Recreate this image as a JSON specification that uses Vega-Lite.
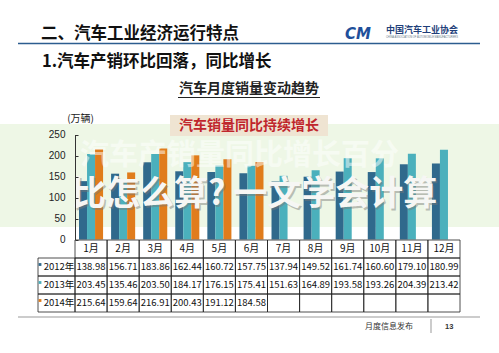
{
  "$schema": "https://vega.github.io/schema/vega-lite/v6.json",
  "width": 499,
  "height": 353,
  "autosize": {"type": "none"},
  "padding": 0,
  "background": "white",
  "config": {"view": {"stroke": null}, "font": "Noto Sans CJK SC"},
  "datasets": {
    "sales": [
      {"month": "1月", "year": "2012年", "value": 138.98},
      {"month": "2月", "year": "2012年", "value": 156.71},
      {"month": "3月", "year": "2012年", "value": 183.86},
      {"month": "4月", "year": "2012年", "value": 162.44},
      {"month": "5月", "year": "2012年", "value": 160.72},
      {"month": "6月", "year": "2012年", "value": 157.75},
      {"month": "7月", "year": "2012年", "value": 137.94},
      {"month": "8月", "year": "2012年", "value": 149.52},
      {"month": "9月", "year": "2012年", "value": 161.74},
      {"month": "10月", "year": "2012年", "value": 160.60},
      {"month": "11月", "year": "2012年", "value": 179.10},
      {"month": "12月", "year": "2012年", "value": 180.99},
      {"month": "1月", "year": "2013年", "value": 203.45},
      {"month": "2月", "year": "2013年", "value": 135.46},
      {"month": "3月", "year": "2013年", "value": 203.50},
      {"month": "4月", "year": "2013年", "value": 184.17},
      {"month": "5月", "year": "2013年", "value": 176.15},
      {"month": "6月", "year": "2013年", "value": 175.41},
      {"month": "7月", "year": "2013年", "value": 151.63},
      {"month": "8月", "year": "2013年", "value": 164.89},
      {"month": "9月", "year": "2013年", "value": 193.58},
      {"month": "10月", "year": "2013年", "value": 193.26},
      {"month": "11月", "year": "2013年", "value": 204.39},
      {"month": "12月", "year": "2013年", "value": 213.42},
      {"month": "1月", "year": "2014年", "value": 215.64},
      {"month": "2月", "year": "2014年", "value": 159.64},
      {"month": "3月", "year": "2014年", "value": 216.91},
      {"month": "4月", "year": "2014年", "value": 200.43},
      {"month": "5月", "year": "2014年", "value": 191.12},
      {"month": "6月", "year": "2014年", "value": 184.58},
      {"month": "7月", "year": "2014年", "value": null},
      {"month": "8月", "year": "2014年", "value": null},
      {"month": "9月", "year": "2014年", "value": null},
      {"month": "10月", "year": "2014年", "value": null},
      {"month": "11月", "year": "2014年", "value": null},
      {"month": "12月", "year": "2014年", "value": null}
    ],
    "months": [
      {"month": "1月"}, {"month": "2月"}, {"month": "3月"}, {"month": "4月"},
      {"month": "5月"}, {"month": "6月"}, {"month": "7月"}, {"month": "8月"},
      {"month": "9月"}, {"month": "10月"}, {"month": "11月"}, {"month": "12月"}
    ],
    "years": [{"year": "2012年"}, {"year": "2013年"}, {"year": "2014年"}]
  },
  "resolve": {"scale": {"x": "independent", "y": "independent", "color": "independent"}},
  "layer": [
    {
      "data": {"values": [{}]},
      "mark": {"type": "rect", "fill": "#eef7e6"},
      "encoding": {"x": {"value": 0}, "x2": {"value": "width"}, "y": {"value": 124}, "y2": {"value": 227}}
    },
    {
      "data": {"name": "sales"},
      "transform": [{"filter": "datum.value != null"}],
      "mark": {"type": "bar"},
      "encoding": {
        "x": {"field": "month", "type": "nominal", "sort": null,
          "scale": {"domain": ["1月","2月","3月","4月","5月","6月","7月","8月","9月","10月","11月","12月"], "range": [75, 460], "paddingInner": 0.25, "paddingOuter": 0.125},
          "axis": null},
        "xOffset": {"field": "year", "type": "nominal", "scale": {"domain": ["2012年", "2013年", "2014年"]}},
        "y": {"field": "value", "type": "quantitative",
          "scale": {"domain": [0, 250], "range": [239.5, 134.5], "nice": false, "zero": true},
          "axis": {"orient": "left", "offset": -75, "values": [0, 50, 100, 150, 200, 250], "grid": false, "title": null, "zindex": 1,
            "labelFont": "Liberation Sans", "labelFontSize": 10, "labelColor": "#222", "domainColor": "#333", "tickColor": "#333",
            "tickSize": -3, "labelPadding": 13}},
        "color": {"field": "year", "type": "nominal", "legend": null,
          "scale": {"domain": ["2012年", "2013年", "2014年"], "range": ["#30698c", "#4bb0bc", "#e07c1c"]}}
      }
    },
    {
      "data": {"name": "sales"},
      "mark": {"type": "rect", "filled": false, "stroke": "#222", "strokeWidth": 0.8},
      "encoding": {
        "x": {"field": "month", "type": "nominal", "axis": null,
          "scale": {"domain": ["1月","2月","3月","4月","5月","6月","7月","8月","9月","10月","11月","12月"], "range": [75, 460], "paddingInner": 0, "paddingOuter": 0}},
        "y": {"field": "year", "type": "nominal", "axis": null,
          "scale": {"domain": ["h", "2012年", "2013年", "2014年"], "range": [240, 312], "paddingInner": 0, "paddingOuter": 0}}
      }
    },
    {
      "data": {"name": "months"},
      "mark": {"type": "rect", "filled": false, "stroke": "#222", "strokeWidth": 0.8},
      "encoding": {
        "x": {"field": "month", "type": "nominal", "axis": null,
          "scale": {"domain": ["1月","2月","3月","4月","5月","6月","7月","8月","9月","10月","11月","12月"], "range": [75, 460], "paddingInner": 0, "paddingOuter": 0}},
        "y": {"datum": "h", "type": "nominal", "axis": null,
          "scale": {"domain": ["h", "2012年", "2013年", "2014年"], "range": [240, 312], "paddingInner": 0, "paddingOuter": 0}}
      }
    },
    {
      "data": {"name": "months"},
      "mark": {"type": "text", "fontSize": 10, "color": "#111", "baseline": "middle"},
      "encoding": {
        "x": {"field": "month", "type": "nominal", "axis": null,
          "scale": {"domain": ["1月","2月","3月","4月","5月","6月","7月","8月","9月","10月","11月","12月"], "range": [75, 460], "paddingInner": 0, "paddingOuter": 0}},
        "y": {"datum": "h", "type": "nominal", "axis": null,
          "scale": {"domain": ["h", "2012年", "2013年", "2014年"], "range": [240, 312], "paddingInner": 0, "paddingOuter": 0}},
        "text": {"field": "month"}
      }
    },
    {
      "data": {"name": "sales"},
      "transform": [{"filter": "datum.value != null"}],
      "mark": {"type": "text", "fontSize": 9.5, "color": "#111", "baseline": "middle"},
      "encoding": {
        "x": {"field": "month", "type": "nominal", "axis": null,
          "scale": {"domain": ["1月","2月","3月","4月","5月","6月","7月","8月","9月","10月","11月","12月"], "range": [75, 460], "paddingInner": 0, "paddingOuter": 0}},
        "y": {"field": "year", "type": "nominal", "axis": null,
          "scale": {"domain": ["h", "2012年", "2013年", "2014年"], "range": [240, 312], "paddingInner": 0, "paddingOuter": 0}},
        "text": {"field": "value", "type": "quantitative", "format": ".2f"}
      }
    },
    {
      "data": {"name": "years"},
      "mark": {"type": "rect", "filled": false, "stroke": "#222", "strokeWidth": 0.8},
      "encoding": {
        "x": {"datum": "label", "type": "nominal", "axis": null, "scale": {"domain": ["label"], "range": [38, 75], "paddingInner": 0, "paddingOuter": 0}},
        "y": {"field": "year", "type": "nominal", "axis": null,
          "scale": {"domain": ["h", "2012年", "2013年", "2014年"], "range": [240, 312], "paddingInner": 0, "paddingOuter": 0}}
      }
    },
    {
      "data": {"name": "years"},
      "mark": {"type": "text", "fontSize": 9.5, "color": "#111", "baseline": "middle", "dx": 2.5},
      "encoding": {
        "x": {"datum": "label", "type": "nominal", "axis": null, "scale": {"domain": ["label"], "range": [38, 75], "paddingInner": 0, "paddingOuter": 0}},
        "y": {"field": "year", "type": "nominal", "axis": null,
          "scale": {"domain": ["h", "2012年", "2013年", "2014年"], "range": [240, 312], "paddingInner": 0, "paddingOuter": 0}},
        "text": {"field": "year"}
      }
    },
    {
      "data": {"name": "years"},
      "mark": {"type": "square", "size": 8, "opacity": 1, "filled": true, "xOffset": -16.5, "yOffset": -2.5},
      "encoding": {
        "x": {"datum": "label", "type": "nominal", "axis": null, "scale": {"domain": ["label"], "range": [38, 75], "paddingInner": 0, "paddingOuter": 0}},
        "y": {"field": "year", "type": "nominal", "axis": null,
          "scale": {"domain": ["h", "2012年", "2013年", "2014年"], "range": [240, 312], "paddingInner": 0, "paddingOuter": 0}},
        "color": {"field": "year", "type": "nominal", "legend": null,
          "scale": {"domain": ["2012年", "2013年", "2014年"], "range": ["#30698c", "#4bb0bc", "#e07c1c"]}}
      }
    },
    {
      "data": {"values": [{}]},
      "mark": {"type": "text", "text": "二、汽车工业经济运行特点", "fontSize": 16.5, "fontWeight": "bold", "color": "#111", "align": "left", "baseline": "middle"},
      "encoding": {"x": {"value": 41}, "y": {"value": 34}}
    },
    {
      "data": {"values": [{}]},
      "mark": {"type": "rule", "stroke": "#2c5d8f", "strokeWidth": 1.5},
      "encoding": {"x": {"value": 18}, "x2": {"value": 480}, "y": {"value": 43.5}}
    },
    {
      "data": {"values": [{}]},
      "mark": {"type": "text", "text": "1.汽车产销环比回落，同比增长", "fontSize": 16.5, "fontWeight": "bold", "color": "#111", "align": "left", "baseline": "middle"},
      "encoding": {"x": {"value": 42}, "y": {"value": 62}}
    },
    {
      "data": {"values": [{}]},
      "mark": {"type": "text", "text": "CM", "fontSize": 15, "fontWeight": "bold", "fontStyle": "italic", "font": "DejaVu Sans", "color": "#1f4f9a", "align": "left", "baseline": "middle"},
      "encoding": {"x": {"value": 345}, "y": {"value": 34}}
    },
    {
      "data": {"values": [{}]},
      "mark": {"type": "text", "text": "中国汽车工业协会", "fontSize": 9, "fontWeight": "bold", "color": "#1f3f7a", "align": "left", "baseline": "middle"},
      "encoding": {"x": {"value": 386}, "y": {"value": 30}}
    },
    {
      "data": {"values": [{}]},
      "mark": {"type": "text", "text": "CHINA ASSOCIATION OF AUTOMOBILE MANUFACTURERS", "fontSize": 2.6, "color": "#667788", "align": "left", "baseline": "middle", "font": "Liberation Sans"},
      "encoding": {"x": {"value": 386}, "y": {"value": 37.5}}
    },
    {
      "data": {"values": [{}]},
      "mark": {"type": "text", "text": "汽车月度销量变动趋势", "fontSize": 14, "fontWeight": "bold", "color": "#222", "align": "center", "baseline": "middle"},
      "encoding": {"x": {"value": 249}, "y": {"value": 89}}
    },
    {
      "data": {"values": [{}]},
      "mark": {"type": "rule", "stroke": "#222", "strokeWidth": 1},
      "encoding": {"x": {"value": 178}, "x2": {"value": 320}, "y": {"value": 97.5}}
    },
    {
      "data": {"values": [{}]},
      "mark": {"type": "text", "text": "(万辆)", "fontSize": 10, "color": "#222", "align": "center", "baseline": "middle"},
      "encoding": {"x": {"value": 80.5}, "y": {"value": 119}}
    },
    {
      "data": {"values": [{}]},
      "mark": {"type": "rect", "fill": "#efe4d2"},
      "encoding": {"x": {"value": 170}, "x2": {"value": 328}, "y": {"value": 115}, "y2": {"value": 136}}
    },
    {
      "data": {"values": [{}]},
      "mark": {"type": "text", "text": "汽车销量同比持续增长", "fontSize": 14, "fontWeight": "bold", "color": "#c0262c", "align": "center", "baseline": "middle"},
      "encoding": {"x": {"value": 249}, "y": {"value": 125.5}}
    },
    {
      "data": {"values": [{}]},
      "mark": {"type": "text", "text": "汽车产销量同比增长百分", "fontSize": 29, "fontWeight": "bold", "color": "white", "opacity": 0.5, "align": "left", "baseline": "middle"},
      "encoding": {"x": {"value": 80}, "y": {"value": 156}}
    },
    {
      "data": {"values": [{}]},
      "mark": {"type": "text", "text": "比怎么算? 一文学会计算", "fontSize": 34, "fontWeight": "bold", "color": "#777", "opacity": 0.45, "align": "left", "baseline": "middle", "dx": 1.5, "dy": 1.5},
      "encoding": {"x": {"value": 72}, "y": {"value": 195}}
    },
    {
      "data": {"values": [{}]},
      "mark": {"type": "text", "text": "比怎么算? 一文学会计算", "fontSize": 34, "fontWeight": "bold", "color": "#f6f6f4", "align": "left", "baseline": "middle"},
      "encoding": {"x": {"value": 72}, "y": {"value": 195}}
    },
    {
      "data": {"values": [{}]},
      "mark": {"type": "rule", "stroke": "#999", "strokeWidth": 1},
      "encoding": {"x": {"value": 18}, "x2": {"value": 480}, "y": {"value": 317}}
    },
    {
      "data": {"values": [{}]},
      "mark": {"type": "text", "text": "月度信息发布", "fontSize": 8, "color": "#333", "align": "left", "baseline": "middle"},
      "encoding": {"x": {"value": 365}, "y": {"value": 327}}
    },
    {
      "data": {"values": [{}]},
      "mark": {"type": "rule", "stroke": "#999", "strokeWidth": 1},
      "encoding": {"x": {"value": 431}, "y": {"value": 319}, "y2": {"value": 333}}
    },
    {
      "data": {"values": [{}]},
      "mark": {"type": "text", "text": "13", "fontSize": 7.5, "fontWeight": "bold", "color": "#333", "align": "left", "baseline": "middle", "font": "Liberation Sans"},
      "encoding": {"x": {"value": 445}, "y": {"value": 327}}
    }
  ]
}
